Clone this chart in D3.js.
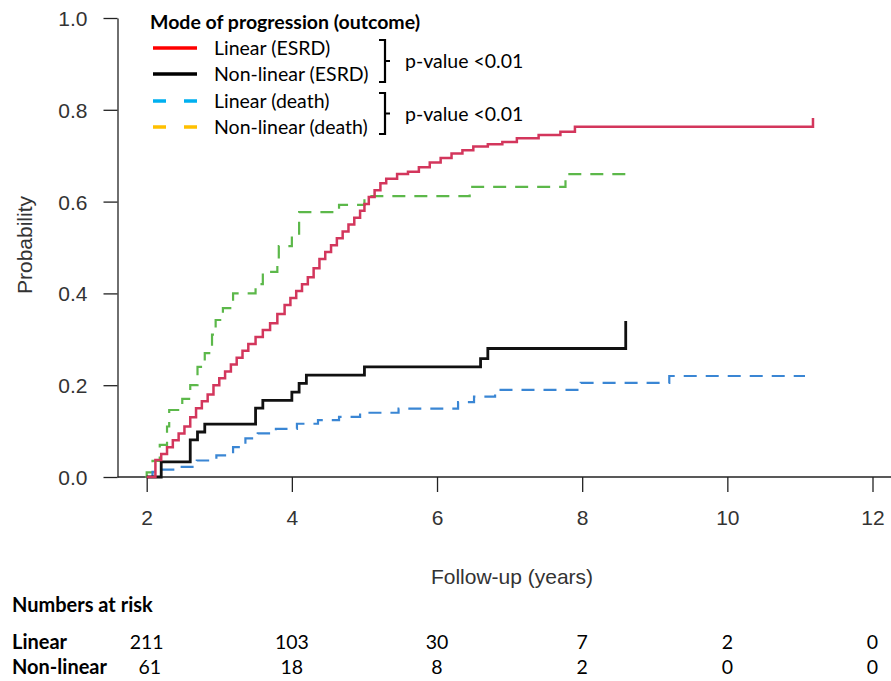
<!DOCTYPE html>
<html>
<head>
<meta charset="utf-8">
<script src="https://cdn.jsdelivr.net/npm/d3@7"></script>
<style>
  body { margin: 0; background: #fff; }
  svg { display: block; }
  .axis text { font-family: "Liberation Sans", Arial, sans-serif; font-size: 21px; fill: #333; }
  .axis line, .axis path { stroke: #222; stroke-width: 1.3; }
  .lbl { font-family: Lato, "Open Sans", sans-serif; }
</style>
</head>
<body>
<div class="km-chart"></div>
<script>
// cumulative incidence curves
const redTimes = [2.0, 2.12, 2.2, 2.28, 2.36, 2.44, 2.52, 2.6, 2.68, 2.76, 2.84, 2.92, 3.0, 3.08, 3.16, 3.24, 3.32, 3.4, 3.5, 3.6, 3.7, 3.8, 3.9, 3.98, 4.06, 4.14, 4.22, 4.3, 4.38, 4.46, 4.54, 4.62, 4.7, 4.78, 4.86, 4.94, 5.0, 5.06, 5.14, 5.22, 5.3, 5.45, 5.6, 5.75, 5.9, 6.05, 6.2, 6.35, 6.5, 6.7, 6.9, 7.1, 7.4, 7.7, 7.9, 11.18];
const redProbs = [0, 0.037, 0.05, 0.065, 0.08, 0.095, 0.11, 0.13, 0.15, 0.165, 0.18, 0.2, 0.215, 0.23, 0.245, 0.26, 0.275, 0.29, 0.305, 0.32, 0.335, 0.355, 0.375, 0.39, 0.405, 0.42, 0.435, 0.455, 0.475, 0.49, 0.505, 0.52, 0.535, 0.55, 0.565, 0.58, 0.595, 0.61, 0.625, 0.64, 0.65, 0.66, 0.665, 0.675, 0.685, 0.695, 0.705, 0.712, 0.72, 0.725, 0.73, 0.738, 0.745, 0.752, 0.763, 0.782];

const blackTimes = [2.0, 2.2, 2.6, 2.7, 2.8, 3.5, 3.6, 4.0, 4.1, 4.2, 5.0, 6.6, 6.7, 8.6];
const blackProbs = [0, 0.033, 0.081, 0.098, 0.115, 0.15, 0.167, 0.185, 0.204, 0.222, 0.24, 0.258, 0.28, 0.34];

const blueTimes = [2.0, 2.08, 2.18, 2.45, 2.69, 2.96, 3.19, 3.36, 3.53, 3.78, 4.07, 4.36, 4.65, 4.94, 5.47, 6.29, 6.51, 6.8, 7.98, 9.2, 11.07];
const blueProbs = [0, 0.011, 0.016, 0.022, 0.036, 0.047, 0.065, 0.084, 0.095, 0.105, 0.116, 0.124, 0.131, 0.14, 0.149, 0.163, 0.175, 0.19, 0.205, 0.22, 0.22];

const greenTimes = [1.98, 2.0, 2.08, 2.18, 2.28, 2.31, 2.49, 2.6, 2.7, 2.8, 2.9, 2.95, 3.05, 3.19, 3.5, 3.6, 3.8, 3.82, 4.0, 4.1, 4.65, 5.0, 6.45, 7.77, 8.6];
const greenProbs = [0, 0.01, 0.035, 0.07, 0.11, 0.146, 0.17, 0.2, 0.24, 0.27, 0.31, 0.342, 0.368, 0.4, 0.42, 0.447, 0.473, 0.503, 0.53, 0.577, 0.593, 0.612, 0.632, 0.66, 0.66];

const xTicks = [2, 4, 6, 8, 10, 12];
const yTicks = [0, 0.2, 0.4, 0.6, 0.8, 1.0];

const legendNames = ["Linear (ESRD)", "Non-linear (ESRD)", "Linear (death)", "Non-linear (death)"];
const legendColors = ["#ff0000", "#000000", "#00b0f0", "#ffc000"];
const pValues = ["p-value <0.01", "p-value <0.01"];

const riskGroups = ["Linear", "Non-linear"];
const riskLinear = [211, 103, 30, 7, 2, 0];
const riskNonLinear = [61, 18, 8, 2, 0, 0];

const W = 891, H = 681;
const svg = d3.select('.km-chart').append('svg')
  .attr('width', W).attr('height', H).attr('viewBox', [0, 0, W, H]);

const x = d3.scaleLinear().domain([2, 12]).range([146.7, 872.5]);
const y = d3.scaleLinear().domain([0, 1]).range([477, 18]);
const yAxisX = 117.5;

// y axis
svg.append('g').attr('class', 'axis')
  .attr('transform', `translate(${yAxisX},0)`)
  .call(d3.axisLeft(y).tickValues(yTicks).tickFormat(d3.format('.1f')).tickSize(14).tickSizeOuter(0).tickPadding(16))
  .call(g => g.selectAll('text').attr('dy', '0.36em'));

// x axis, baseline runs from the y axis to the edge
const xg = svg.append('g').attr('class', 'axis')
  .attr('transform', `translate(0,${y(0)})`)
  .call(d3.axisBottom(x).tickValues(xTicks).tickSize(15).tickPadding(18));
xg.select('.domain').remove();
xg.append('line').attr('x1', yAxisX).attr('x2', W).attr('y1', 0).attr('y2', 0);

svg.append('text').attr('class', 'axis-title')
  .attr('x', 512).attr('y', 584).attr('text-anchor', 'middle')
  .style('font-family', '"Liberation Sans", Arial, sans-serif').style('font-size', '21px').attr('fill', '#333')
  .text('Follow-up (years)');
svg.append('text')
  .attr('transform', 'translate(32,245) rotate(-90)').attr('text-anchor', 'middle')
  .style('font-family', '"Liberation Sans", Arial, sans-serif').style('font-size', '21px').attr('fill', '#333')
  .text('Probability');

// curves
const line = d3.line().x(d => x(d[0])).y(d => y(d[1])).curve(d3.curveStepAfter);
const series = [
  {t: greenTimes, p: greenProbs, color: '#5cb84a', width: 2.2, dash: '13,9'},
  {t: blueTimes, p: blueProbs, color: '#3a86d4', width: 2.2, dash: '13,9'},
  {t: blackTimes, p: blackProbs, color: '#111', width: 2.8, dash: null},
  {t: redTimes, p: redProbs, color: '#d3365c', width: 2.5, dash: null}
];
svg.append('g').selectAll('path')
  .data(series)
  .join('path')
  .attr('d', s => line(s.t.map((t, i) => [t, s.p[i]])))
  .attr('fill', 'none')
  .attr('stroke', s => s.color)
  .attr('stroke-width', s => s.width)
  .attr('stroke-dasharray', s => s.dash);

// legend
const leg = svg.append('g').attr('class', 'lbl');
leg.append('text').attr('x', 150).attr('y', 29)
  .style('font-size', '19.5px').style('font-weight', 'bold').attr('fill', '#000')
  .text('Mode of progression (outcome)');
const rowY = [48, 74, 101, 127];
leg.selectAll('line.key')
  .data(legendNames)
  .join('line')
  .attr('class', 'key')
  .attr('x1', 153).attr('x2', 197)
  .attr('y1', (d, i) => rowY[i]).attr('y2', (d, i) => rowY[i])
  .attr('stroke', (d, i) => legendColors[i])
  .attr('stroke-width', 3.5)
  .attr('stroke-dasharray', (d, i) => i > 1 ? '13,18' : null);
leg.selectAll('text.name')
  .data(legendNames)
  .join('text')
  .attr('class', 'name')
  .attr('x', 214).attr('y', (d, i) => rowY[i] + 7)
  .style('font-size', '19.5px').attr('fill', '#000')
  .text(d => d);

// braces
[[40, 82], [93, 134]].forEach(([top, bot], i) => {
  const bx = 385, mid = (top + bot) / 2;
  leg.append('path')
    .attr('d', `M${bx - 6},${top} H${bx} V${bot} H${bx - 6} M${bx},${mid} H${bx + 5}`)
    .attr('fill', 'none').attr('stroke', '#000').attr('stroke-width', 2.2);
  leg.append('text').attr('x', 405).attr('y', mid + 7)
    .style('font-size', '19.5px').attr('fill', '#000')
    .text(pValues[i]);
});

// numbers at risk
const risk = svg.append('g').attr('class', 'lbl');
risk.append('text').attr('x', 12).attr('y', 612)
  .style('font-size', '20px').style('font-weight', 'bold')
  .text('Numbers at risk');
[riskLinear, riskNonLinear].forEach((vals, r) => {
  const ry = r === 0 ? 649 : 674;
  risk.append('text').attr('x', 12).attr('y', ry)
    .style('font-size', '20px').style('font-weight', 'bold')
    .text(riskGroups[r]);
  risk.selectAll(null)
    .data(vals)
    .join('text')
    .attr('x', (d, i) => x(xTicks[i]) + (r === 1 && i === 0 ? 3 : 0))
    .attr('y', ry)
    .attr('text-anchor', 'middle')
    .style('font-size', '19.5px')
    .text(d => d);
});
</script>
</body>
</html>
